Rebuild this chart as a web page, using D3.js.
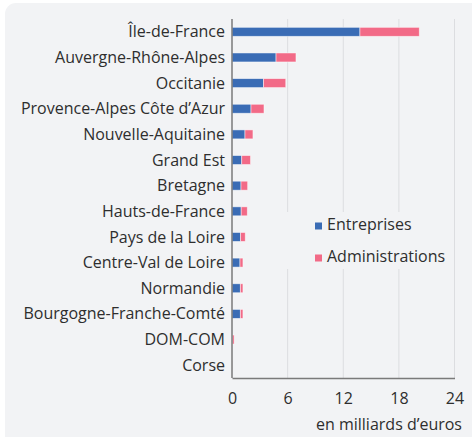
<!DOCTYPE html>
<html>
<head>
<meta charset="utf-8">
<script src="https://cdn.jsdelivr.net/npm/d3@7"></script>
<style>
  body { margin: 0; background: #fff; }
  svg text { font-family: "Open Sans", sans-serif; fill: #2e2e2e; }
</style>
</head>
<body>
<svg id="chart" width="472" height="437"></svg>
<script>
// regions, top to bottom
let regions = ["Île-de-France", "Auvergne-Rhône-Alpes", "Occitanie",
  "Provence-Alpes Côte d’Azur", "Nouvelle-Aquitaine", "Grand Est", "Bretagne",
  "Hauts-de-France", "Pays de la Loire", "Centre-Val de Loire", "Normandie",
  "Bourgogne-Franche-Comté", "DOM-COM", "Corse"];

// en milliards d'euros
let entreprises     = [13.8, 4.75, 3.4, 2.05, 1.4, 1.05, 0.97, 0.99, 0.93, 0.86, 0.9, 0.9, 0.03, 0.02];
let administrations = [6.4, 2.15, 2.4, 1.4, 0.86, 0.95, 0.72, 0.66, 0.5, 0.32, 0.28, 0.28, 0.2, 0.02];

let xTicks = [0, 6, 12, 18, 24];
let seriesNames = ["Entreprises", "Administrations"];
let colors = ["#3a6cb5", "#f26a87"];

let fontSize = "16px";

let svg = d3.select("svg#chart");

// background panel
svg.append("rect")
  .attr("x", 5).attr("y", 3)
  .attr("width", 480).attr("height", 450)
  .attr("rx", 11)
  .attr("fill", "#f2f3f5");

let x = d3.scaleLinear().domain([0, 24]).range([232, 454.5]);
let y = d3.scaleBand().domain(regions).range([19, 378])
          .paddingInner(0.65).paddingOuter(0.325);

// gridlines
svg.append("g").selectAll("line")
  .data(xTicks.slice(1))
  .enter().append("line")
    .attr("x1", function(d) { return x(d); })
    .attr("x2", function(d) { return x(d); })
    .attr("y1", 19).attr("y2", 378)
    .attr("stroke", "#dcdde0")
    .attr("stroke-width", 1);

// stack the two series
let rows = regions.map(function(r, i) {
  return { region: r, Entreprises: entreprises[i], Administrations: administrations[i] };
});
let stacked = d3.stack().keys(seriesNames)(rows);

svg.append("g").selectAll("g")
  .data(stacked)
  .enter().append("g")
    .attr("fill", function(d, i) { return colors[i]; })
  .selectAll("rect")
  .data(function(d) { return d; })
  .enter().append("rect")
    .attr("x", function(d) { return x(d[0]); })
    .attr("y", function(d) { return y(d.data.region); })
    .attr("width", function(d) { return Math.max(0, x(d[1]) - x(d[0])); })
    .attr("height", y.bandwidth())
    .attr("stroke", "rgba(255,255,255,0.6)")
    .attr("stroke-width", 0.8);

// category labels
svg.append("g").selectAll("text")
  .data(regions)
  .enter().append("text")
    .attr("x", 225)
    .attr("y", function(d) { return y(d) + y.bandwidth() / 2; })
    .attr("dy", "0.35em")
    .attr("text-anchor", "end")
    .style("font-size", fontSize)
    .text(function(d) { return d; });

// y axis line
svg.append("line")
  .attr("x1", 232).attr("x2", 232)
  .attr("y1", 19).attr("y2", 378)
  .attr("stroke", "#7a7a7a").attr("stroke-width", 1.5);

// x axis
let xAxis = svg.append("g")
  .attr("transform", "translate(0,378)")
  .call(d3.axisBottom(x).tickValues(xTicks).tickSize(0).tickPadding(15));
xAxis.select(".domain").attr("stroke", "#7a7a7a").attr("stroke-width", 1.5);
xAxis.selectAll("text")
  .style("font-size", fontSize)
  .style("font-family", "'Open Sans', sans-serif")
  .attr("fill", "#2e2e2e");

svg.append("text")
  .attr("x", 462).attr("y", 430)
  .attr("text-anchor", "end")
  .style("font-size", fontSize)
  .text("en milliards d’euros");

// legend, with a box that hides the gridlines behind it
let legend = svg.append("g");
legend.append("rect")
  .attr("x", 282).attr("y", 212)
  .attr("width", 168).attr("height", 57)
  .attr("fill", "#f2f3f5");

let items = legend.selectAll("g.item")
  .data(seriesNames)
  .enter().append("g")
    .attr("class", "item")
    .attr("transform", function(d, i) { return "translate(315," + (222.5 + 32 * i) + ")"; });

items.append("rect")
  .attr("width", 7).attr("height", 7)
  .attr("fill", function(d, i) { return colors[i]; });

items.append("text")
  .attr("x", 12).attr("y", 7.5)
  .style("font-size", fontSize)
  .text(function(d) { return d; });
</script>
</body>
</html>
